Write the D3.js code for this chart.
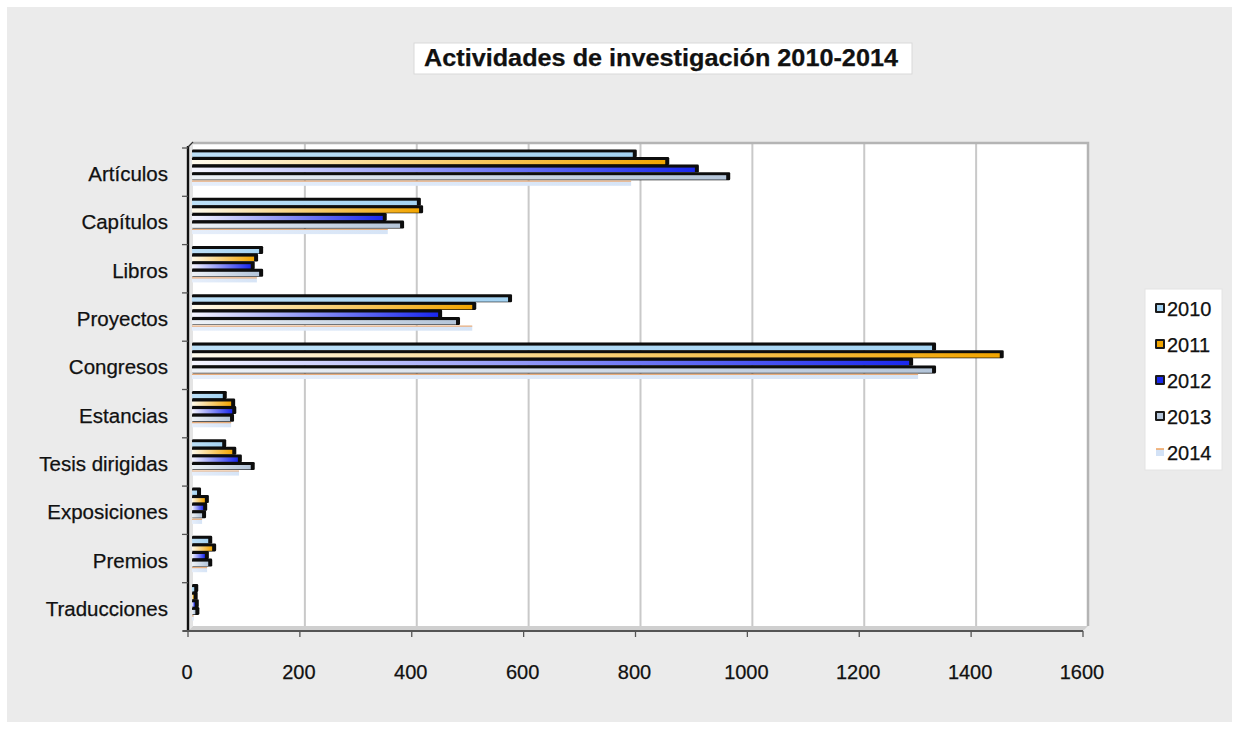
<!DOCTYPE html>
<html>
<head>
<meta charset="utf-8">
<script src="https://cdn.jsdelivr.net/npm/d3@7"></script>
<style>
  body { margin: 0; background: #ffffff; }
  text { font-family: "Liberation Sans", Arial, sans-serif; fill: #111; stroke: #111; stroke-width: 0.25px; }
</style>
</head>
<body>
<div id="chart"></div>
<script>
// data
const categories = ["Artículos", "Capítulos", "Libros", "Proyectos", "Congresos",
  "Estancias", "Tesis dirigidas", "Exposiciones", "Premios", "Traducciones"]
const years = ["2010", "2011", "2012", "2013", "2014"]
const values2010 = [788, 402, 120, 565, 1323, 55, 54, 9, 29, 4]
const values2011 = [846, 406, 111, 501, 1444, 70, 72, 23, 36, 3]
const values2012 = [899, 341, 105, 440, 1282, 72, 82, 20, 23, 5]
const values2013 = [955, 372, 120, 472, 1323, 68, 105, 18, 29, 6]
const values2014 = [785, 350, 116, 501, 1298, 70, 84, 18, 27, 3]
const xTicks = [0, 200, 400, 600, 800, 1000, 1200, 1400, 1600]
const title = "Actividades de investigación 2010-2014"

const series = [values2010, values2011, values2012, values2013, values2014]

const width = 1239
const height = 729
const depth = { x: 5, y: -5 }   // 3d offset of the back wall

const svg = d3.select("#chart").append("svg")
  .attr("width", width)
  .attr("height", height)

const defs = svg.append("defs")

// gradients for the bar faces (left pale -> right saturated)
const grads = [
  ["g2010", "#bde0f7", "#a4d3f2"],
  ["g2011", "#fffbee", "#f2a500"],
  ["g2012", "#f7f7ff", "#1a28ee"],
  ["g2013", "#eef2f7", "#b4c5d9"],
  ["g2014", "#e6eefa", "#d6e4f6"]
]
grads.forEach(([id, c0, c1]) => {
  const g = defs.append("linearGradient").attr("id", id)
    .attr("x1", 0).attr("x2", 1).attr("y1", 0).attr("y2", 0)
  g.append("stop").attr("offset", "0%").attr("stop-color", c0)
  g.append("stop").attr("offset", "100%").attr("stop-color", c1)
})

defs.append("filter").attr("id", "soft")
  .append("feGaussianBlur").attr("stdDeviation", 0.5)

// background
svg.append("rect").attr("x", 0).attr("y", 0).attr("width", width).attr("height", height).attr("fill", "#ffffff")
svg.append("rect").attr("x", 7).attr("y", 7).attr("width", width - 14).attr("height", height - 14).attr("fill", "#ebebeb")

// scales
const x = d3.scaleLinear().domain([0, 1600]).range([188, 1083])
const y = d3.scaleBand().domain(categories).range([148, 631]).padding(0)
const ySub = d3.scaleBand().domain(years).range([2, 40]).padding(0)

const plotTop = 148, plotBottom = 631

// back wall + floor + left wall
svg.append("rect")
  .attr("x", x(0) + depth.x).attr("y", plotTop + depth.y)
  .attr("width", x(1600) - x(0)).attr("height", plotBottom - plotTop)
  .attr("fill", "#ffffff")

svg.append("g")
  .selectAll("line")
  .data(xTicks.slice(1, -1))
  .join("line")
  .attr("x1", d => x(d) + depth.x).attr("x2", d => x(d) + depth.x)
  .attr("y1", plotTop + depth.y).attr("y2", plotBottom + depth.y)
  .attr("stroke", "#c9c9c9").attr("stroke-width", 2)

// top and right edges of the wall
svg.append("path")
  .attr("d", `M${x(0) + depth.x},${plotTop + depth.y}H${x(1600) + depth.x}V${plotBottom + depth.y}`)
  .attr("fill", "none").attr("stroke", "#b4b4b4").attr("stroke-width", 2.5)

// floor
svg.append("path")
  .attr("d", `M${x(0)},${plotBottom}L${x(0) + depth.x},${plotBottom + depth.y}H${x(1600) + depth.x}L${x(1600)},${plotBottom}Z`)
  .attr("fill", "#cfcfcf")

// left wall
svg.append("path")
  .attr("d", `M${x(0)},${plotTop}L${x(0) + depth.x},${plotTop + depth.y}V${plotBottom + depth.y}L${x(0)},${plotBottom}Z`)
  .attr("fill", "#e4e4e4")

// bars, drawn one category at a time so the black sides overlap properly
const barGroup = svg.append("g")

categories.forEach((cat, ci) => {
  years.forEach((yr, si) => {
    const v = series[si][ci]
    const y0 = y(cat) + ySub(yr)
    const h = ySub.bandwidth()
    const x0 = x(0) + 4
    const x1 = x(v) + 4

    if (si < 4) {
      // dark 3d side of the bar (top + right end)
      barGroup.append("rect")
        .attr("x", x0).attr("y", y0 - 0.6)
        .attr("width", Math.max(x1 - x0 + 4, 4)).attr("height", h + 0.4)
        .attr("rx", 1.3)
        .attr("fill", "#0c0c0c")
        .attr("filter", "url(#soft)")
      barGroup.append("rect")
        .attr("x", x0).attr("y", y0 + 2.4)
        .attr("width", Math.max(x1 - x0, 0.5)).attr("height", h - 3.2)
        .attr("fill", `url(#g${yr})`)
    } else {
      // 2014 is very faint with a thin orange top edge
      barGroup.append("rect")
        .attr("x", x0).attr("y", y0 + 0.8)
        .attr("width", x1 - x0).attr("height", 4.6)
        .attr("fill", `url(#g${yr})`)
      barGroup.append("line")
        .attr("x1", x0).attr("x2", x1)
        .attr("y1", y0 + 0.8).attr("y2", y0 + 0.8)
        .attr("stroke", "#e8ad7c").attr("stroke-width", 1.2)
    }
  })
})

// y axis
svg.append("line")
  .attr("x1", x(0)).attr("x2", x(0))
  .attr("y1", plotTop - 2).attr("y2", plotBottom + 1)
  .attr("stroke", "#111").attr("stroke-width", 2.4)
svg.append("line")
  .attr("x1", x(0)).attr("x2", x(0) + depth.x)
  .attr("y1", plotTop - 1).attr("y2", plotTop + depth.y - 1)
  .attr("stroke", "#333").attr("stroke-width", 1.2)

svg.append("g")
  .selectAll("line")
  .data([...categories.map(c => y(c)), plotBottom])
  .join("line")
  .attr("x1", x(0) - 6).attr("x2", x(0))
  .attr("y1", d => d).attr("y2", d => d)
  .attr("stroke", "#555").attr("stroke-width", 1.3)

svg.append("g")
  .selectAll("text")
  .data(categories)
  .join("text")
  .attr("x", 168)
  .attr("y", d => y(d) + y.bandwidth() / 2 + 9)
  .attr("text-anchor", "end")
  .style("font-size", "20.5px")
  .text(d => d)

// x axis
svg.append("line")
  .attr("x1", x(0) - 5).attr("x2", x(1600))
  .attr("y1", plotBottom).attr("y2", plotBottom)
  .attr("stroke", "#555").attr("stroke-width", 2.2)

svg.append("g")
  .selectAll("line")
  .data(xTicks)
  .join("line")
  .attr("x1", d => x(d)).attr("x2", d => x(d))
  .attr("y1", plotBottom).attr("y2", plotBottom + 6)
  .attr("stroke", "#555").attr("stroke-width", 1.3)

svg.append("g")
  .selectAll("text")
  .data(xTicks)
  .join("text")
  .attr("x", d => x(d) - 1)
  .attr("y", 679)
  .attr("text-anchor", "middle")
  .style("font-size", "20px")
  .text(d => d)

// title
svg.append("rect")
  .attr("x", 414).attr("y", 43).attr("width", 498).attr("height", 31)
  .attr("fill", "#ffffff").attr("stroke", "#d9d9d9")
svg.append("text")
  .attr("x", 424).attr("y", 66)
  .attr("textLength", 474).attr("lengthAdjust", "spacingAndGlyphs")
  .style("font-size", "24px").style("font-weight", "bold")
  .text(title)

// legend
const legend = svg.append("g")
legend.append("rect")
  .attr("x", 1145).attr("y", 289).attr("width", 77).attr("height", 181)
  .attr("fill", "#ffffff").attr("stroke", "#e4e4e4")

const legendY = d3.scaleBand().domain(years).range([291, 471])

years.forEach((yr, i) => {
  const cy = legendY(yr) + legendY.bandwidth() / 2
  if (i < 4) {
    legend.append("rect").attr("x", 1155).attr("y", cy - 6).attr("width", 10).attr("height", 10)
      .attr("fill", "#1a1a1a").attr("rx", 1.2)
    legend.append("rect").attr("x", 1157).attr("y", cy - 4).attr("width", 6).attr("height", 6)
      .attr("fill", grads[i][2])
  } else {
    legend.append("rect").attr("x", 1156).attr("y", cy - 4).attr("width", 8).attr("height", 7)
      .attr("fill", "#d3e2f6")
    legend.append("line").attr("x1", 1156).attr("x2", 1164).attr("y1", cy - 4).attr("y2", cy - 4)
      .attr("stroke", "#f0a766").attr("stroke-width", 1.6)
  }
  legend.append("text")
    .attr("x", 1167).attr("y", cy + 7)
    .style("font-size", "20px")
    .text(yr)
})
</script>
</body>
</html>
